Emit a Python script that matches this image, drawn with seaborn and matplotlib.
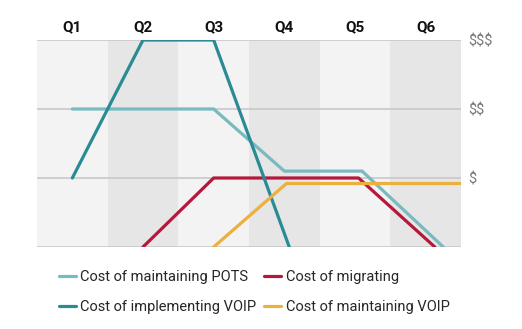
import matplotlib
matplotlib.use("Agg")
import matplotlib.pyplot as plt
import seaborn as sns
import pandas as pd

quarters = ["Q1", "Q2", "Q3", "Q4", "Q5", "Q6"]
cost_levels = ["$", "$$", "$$$"]

pots_x = [0.5, 2.5, 3.5, 4.6, 5.75]
pots_y = [2.0, 2.0, 1.1, 1.1, 0.0]
impl_x = [0.5, 1.5, 2.5, 3.57]
impl_y = [1.0, 3.0, 3.0, 0.0]
migr_x = [1.5, 2.5, 4.55, 5.63]
migr_y = [0.0, 1.0, 1.0, 0.0]
mvoip_x = [2.5, 3.53, 6.0]
mvoip_y = [0.0, 0.92, 0.92]

series_names = ["Cost of maintaining POTS", "Cost of migrating",
                "Cost of implementing VOIP", "Cost of maintaining VOIP"]
colors = ["#79b9c0", "#b5183b", "#2a8b95", "#ebb03e"]

rows = []
for name, xs, ys in [(series_names[0], pots_x, pots_y),
                     (series_names[1], migr_x, migr_y),
                     (series_names[2], impl_x, impl_y),
                     (series_names[3], mvoip_x, mvoip_y)]:
    for i, (x, y) in enumerate(zip(xs, ys)):
        rows.append({"series": name, "x": x, "y": y, "order": i})
df = pd.DataFrame(rows)

sns.set_theme(style="white")
plt.rcParams["font.family"] = ["Roboto", "DejaVu Sans"]
plt.rcParams["text.parse_math"] = False

fig = plt.figure(figsize=(5.22, 3.29), dpi=100)
ax = fig.add_axes([37/522, 1-247/329, (461-37)/522, (247-40)/329])

for i in range(6):
    ax.axvspan(i, i+1, color="#f3f3f3" if i % 2 == 0 else "#e6e6e6", lw=0, zorder=0)
for yv in [0, 1, 2, 3]:
    ax.axhline(yv, color="#c8c8c8", lw=1.2, zorder=1)

sns.lineplot(data=df, x="x", y="y", hue="series", hue_order=series_names,
             palette=colors, sort=False, estimator=None, units="series",
             lw=2.3, ax=ax, zorder=3, legend=True)

ax.set_xlim(0, 6)
ax.set_ylim(0, 3)
ax.set_xlabel("")
ax.set_ylabel("")
for s in ax.spines.values():
    s.set_visible(False)

ax.xaxis.tick_top()
ax.set_xticks([i + 0.5 for i in range(6)])
ax.set_xticklabels(quarters, fontsize=11, fontweight="bold", color="#111111")
ax.tick_params(axis="x", length=0, pad=4)

ax.yaxis.tick_right()
ax.set_yticks([1, 2, 3])
ax.set_yticklabels(cost_levels, fontsize=10.5, color="#777777")
ax.tick_params(axis="y", length=0, pad=5)

handles, labels = ax.get_legend_handles_labels()
order = [0, 2, 1, 3]
ax.legend([handles[i] for i in order], [labels[i] for i in order],
          loc="upper left", bbox_to_anchor=(0.02, -0.05),
          ncol=2, frameon=False, fontsize=10.5, handlelength=1.2,
          handletextpad=0.3, columnspacing=0.5, labelspacing=1.05)

fig.savefig("out.png", dpi=100, facecolor="white")
